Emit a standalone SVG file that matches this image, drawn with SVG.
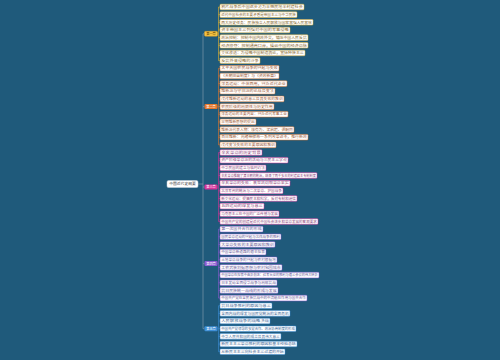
<svg xmlns="http://www.w3.org/2000/svg" width="500" height="360" viewBox="0 0 500 360">
<style>
text{font-family:"Noto Sans CJK SC","Noto Sans",sans-serif;}
.leaf rect{fill:#ffffff;stroke-width:0.5;}
.leaf text{font-size:3.3px;}
.b1 rect{stroke:#e8b530;} .b1 text{fill:#8a6a30;}
.b2 rect{stroke:#e6772b;} .b2 text{fill:#a0603a;}
.b3 rect{stroke:#d8339b;} .b3 text{fill:#8e4a80;}
.b4 rect{stroke:#8b5bd0;} .b4 text{fill:#6a5a98;}
.b5 rect{stroke:#3d8fd8;} .b5 text{fill:#3f6a98;}
.br text{font-size:3.2px;fill:#ffffff;text-anchor:middle;}
.con path{fill:none;stroke-width:0.6;}
</style>
<rect width="500" height="360" fill="#1f5a7b"/>
<g id="connectors" class="con">
<path d="M198 184 H203 M203 33.8 V328.7 M203 33.8 H204.5 M203 106.6 H204.5 M203 187 H204.5 M203 263.6 H204.5 M203 328.7 H204.5" stroke="#8fa3b3"/>
<path d="M217.5 33.8 H218.5 M218.5 7 V60.62 M218.5 7 H220 M218.5 14.66 H220 M218.5 22.32 H220 M218.5 29.98 H220 M218.5 37.64 H220 M218.5 45.3 H220 M218.5 52.96 H220 M218.5 60.62 H220" stroke="#e8b530"/>
<path d="M217.5 106.6 H218.5 M218.5 68.28 V144.88 M218.5 68.28 H220 M218.5 75.94 H220 M218.5 83.6 H220 M218.5 91.26 H220 M218.5 98.92 H220 M218.5 106.58 H220 M218.5 114.24 H220 M218.5 121.9 H220 M218.5 129.56 H220 M218.5 137.22 H220 M218.5 144.88 H220" stroke="#e6772b"/>
<path d="M217.5 187 H218.5 M218.5 152.54 V221.48 M218.5 152.54 H220 M218.5 160.2 H220 M218.5 167.86 H220 M218.5 175.52 H220 M218.5 183.18 H220 M218.5 190.84 H220 M218.5 198.5 H220 M218.5 206.16 H220 M218.5 213.82 H220 M218.5 221.48 H220" stroke="#d8339b"/>
<path d="M217.5 263.6 H218.5 M218.5 229.14 V298.08 M218.5 229.14 H220 M218.5 236.8 H220 M218.5 244.46 H220 M218.5 252.12 H220 M218.5 259.78 H220 M218.5 267.44 H220 M218.5 275.1 H220 M218.5 282.76 H220 M218.5 290.42 H220 M218.5 298.08 H220" stroke="#8b5bd0"/>
<path d="M217.5 328.7 H218.5 M218.5 305.74 V351.7 M218.5 305.74 H220 M218.5 313.4 H220 M218.5 321.06 H220 M218.5 328.72 H220 M218.5 336.38 H220 M218.5 344.04 H220 M218.5 351.7 H220" stroke="#3d8fd8"/>
</g>
<g id="root">
<rect x="167" y="180.5" width="31" height="7" rx="1.5" fill="#ffffff" stroke="#c9d3da" stroke-width="0.5"/>
<text x="182.5" y="185.4" font-size="3.8" fill="#444444" text-anchor="middle">中国近代史纲要</text>
</g>
<g id="branch1" class="br"><rect x="204.5" y="31.3" width="13" height="5" rx="1" fill="#f5c342" stroke="#e09a20" stroke-width="0.4"/><text x="211" y="35" style="fill:#5a3a00">第一章</text></g>
<g id="branch2" class="br"><rect x="204.5" y="104.1" width="13" height="5" rx="1" fill="#e6772b"/><text x="211" y="107.8">第二章</text></g>
<g id="branch3" class="br"><rect x="204.5" y="184.5" width="13" height="5" rx="1" fill="#d8339b"/><text x="211" y="188.2">第三章</text></g>
<g id="branch4" class="br"><rect x="204.5" y="261.1" width="13" height="5" rx="1" fill="#8b5bd0"/><text x="211" y="264.8">第四章</text></g>
<g id="branch5" class="br"><rect x="204.5" y="326.2" width="13" height="5" rx="1" fill="#3d8fd8"/><text x="211" y="329.9">第五章</text></g>
<g id="n1" class="leaf b1"><rect x="220" y="4.2" width="84" height="5.6" rx="0.8"/><text x="221.2" y="8.2" textLength="81.6" lengthAdjust="spacingAndGlyphs">鸦片战争后中国逐步沦为半殖民地半封建社会</text></g>
<g id="n2" class="leaf b1"><rect x="220" y="11.86" width="77" height="5.6" rx="0.8"/><text x="221.2" y="15.86" textLength="74.6" lengthAdjust="spacingAndGlyphs">近代中国社会的主要矛盾是帝国主义与中华民族</text></g>
<g id="n3" class="leaf b1"><rect x="220" y="19.52" width="93" height="5.6" rx="0.8"/><text x="221.2" y="23.52" textLength="90.6" lengthAdjust="spacingAndGlyphs">两大历史任务：民族独立人民解放与国家富强人民富裕</text></g>
<g id="n4" class="leaf b1"><rect x="220" y="27.18" width="70" height="5.6" rx="0.8"/><text x="221.2" y="31.18" textLength="67.6" lengthAdjust="spacingAndGlyphs">资本帝国主义列强对中国的军事侵略</text></g>
<g id="n5" class="leaf b1"><rect x="220" y="34.84" width="88" height="5.6" rx="0.8"/><text x="221.2" y="38.84" textLength="85.6" lengthAdjust="spacingAndGlyphs">政治控制：控制中国内政外交，镇压中国人民反抗</text></g>
<g id="n6" class="leaf b1"><rect x="220" y="42.5" width="88" height="5.6" rx="0.8"/><text x="221.2" y="46.5" textLength="85.6" lengthAdjust="spacingAndGlyphs">经济掠夺：控制通商口岸，操纵中国的经济命脉</text></g>
<g id="n7" class="leaf b1"><rect x="220" y="50.16" width="85" height="5.6" rx="0.8"/><text x="221.2" y="54.16" textLength="82.6" lengthAdjust="spacingAndGlyphs">文化渗透：为侵略中国制造舆论，宣扬种族主义</text></g>
<g id="n8" class="leaf b1"><rect x="220" y="57.82" width="40" height="5.6" rx="0.8"/><text x="221.2" y="61.82" textLength="37.6" lengthAdjust="spacingAndGlyphs">反抗外来侵略的斗争</text></g>
<g id="n9" class="leaf b2"><rect x="220" y="65.48" width="59" height="5.6" rx="0.8"/><text x="221.2" y="69.48" textLength="56.6" lengthAdjust="spacingAndGlyphs">太平天国农民战争的兴起与失败</text></g>
<g id="n10" class="leaf b2"><rect x="220" y="73.14" width="59" height="5.6" rx="0.8"/><text x="221.2" y="77.14" textLength="56.6" lengthAdjust="spacingAndGlyphs">《天朝田亩制度》与《资政新篇》</text></g>
<g id="n11" class="leaf b2"><rect x="220" y="80.8" width="67" height="5.6" rx="0.8"/><text x="221.2" y="84.8" textLength="64.6" lengthAdjust="spacingAndGlyphs">洋务运动：中体西用，兴办近代企业</text></g>
<g id="n12" class="leaf b2"><rect x="220" y="88.46" width="55" height="5.6" rx="0.8"/><text x="221.2" y="92.46" textLength="52.6" lengthAdjust="spacingAndGlyphs">维新派与守旧派的论战及变法</text></g>
<g id="n13" class="leaf b2"><rect x="220" y="96.12" width="64" height="5.6" rx="0.8"/><text x="221.2" y="100.12" textLength="61.6" lengthAdjust="spacingAndGlyphs">戊戌维新运动的意义及其失败的教训</text></g>
<g id="n14" class="leaf b2"><rect x="220" y="103.78" width="54" height="5.6" rx="0.8"/><text x="221.2" y="107.78" textLength="51.6" lengthAdjust="spacingAndGlyphs">农民阶级的局限性与历史作用</text></g>
<g id="n15" class="leaf b2"><rect x="220" y="111.44" width="68" height="5.6" rx="0.8"/><text x="221.2" y="115.44" textLength="65.6" lengthAdjust="spacingAndGlyphs">洋务运动的主要内容：兴办近代军事工业</text></g>
<g id="n16" class="leaf b2"><rect x="220" y="119.1" width="36" height="5.6" rx="0.8"/><text x="221.2" y="123.1" textLength="33.6" lengthAdjust="spacingAndGlyphs">早期维新思想的提出</text></g>
<g id="n17" class="leaf b2"><rect x="220" y="126.76" width="74" height="5.6" rx="0.8"/><text x="221.2" y="130.76" textLength="71.6" lengthAdjust="spacingAndGlyphs">维新派代表人物：康有为、梁启超、谭嗣同</text></g>
<g id="n18" class="leaf b2"><rect x="220" y="134.42" width="88" height="5.6" rx="0.8"/><text x="221.2" y="138.42" textLength="85.6" lengthAdjust="spacingAndGlyphs">百日维新：光绪帝颁布一系列改革诏令，推行新政</text></g>
<g id="n19" class="leaf b2"><rect x="220" y="142.08" width="56" height="5.6" rx="0.8"/><text x="221.2" y="146.08" textLength="53.6" lengthAdjust="spacingAndGlyphs">戊戌变法失败的主要原因和教训</text></g>
<g id="n20" class="leaf b3"><rect x="220" y="149.74" width="42" height="5.6" rx="0.8"/><text x="221.2" y="153.74" textLength="39.6" lengthAdjust="spacingAndGlyphs">辛亥革命的历史背景</text></g>
<g id="n21" class="leaf b3"><rect x="220" y="157.4" width="68" height="5.6" rx="0.8"/><text x="221.2" y="161.4" textLength="65.6" lengthAdjust="spacingAndGlyphs">资产阶级革命派的活动与三民主义学说</text></g>
<g id="n22" class="leaf b3"><rect x="220" y="165.06" width="46" height="5.6" rx="0.8"/><text x="221.2" y="169.06" textLength="43.6" lengthAdjust="spacingAndGlyphs">中华民国的建立与临时约法</text></g>
<g id="n23" class="leaf b3"><rect x="220" y="172.72" width="97" height="5.6" rx="0.8"/><text x="221.2" y="176.72" textLength="94.6" lengthAdjust="spacingAndGlyphs">辛亥革命推翻了清王朝的统治，结束了两千多年的封建君主专制制度</text></g>
<g id="n24" class="leaf b3"><rect x="220" y="180.38" width="70" height="5.6" rx="0.8"/><text x="221.2" y="184.38" textLength="67.6" lengthAdjust="spacingAndGlyphs">辛亥革命的失败：袁世凯窃取革命果实</text></g>
<g id="n25" class="leaf b3"><rect x="220" y="188.04" width="63" height="5.6" rx="0.8"/><text x="221.2" y="192.04" textLength="60.6" lengthAdjust="spacingAndGlyphs">北洋军阀的统治与二次革命、护国战争</text></g>
<g id="n26" class="leaf b3"><rect x="220" y="195.7" width="77" height="5.6" rx="0.8"/><text x="221.2" y="199.7" textLength="74.6" lengthAdjust="spacingAndGlyphs">新文化运动：提倡民主和科学，反对专制和迷信</text></g>
<g id="n27" class="leaf b3"><rect x="220" y="203.36" width="44" height="5.6" rx="0.8"/><text x="221.2" y="207.36" textLength="41.6" lengthAdjust="spacingAndGlyphs">五四运动的爆发与意义</text></g>
<g id="n28" class="leaf b3"><rect x="220" y="211.02" width="59" height="5.6" rx="0.8"/><text x="221.2" y="215.02" textLength="56.6" lengthAdjust="spacingAndGlyphs">马克思主义在中国的广泛传播与发展</text></g>
<g id="n29" class="leaf b3"><rect x="220" y="218.68" width="98" height="5.6" rx="0.8"/><text x="221.2" y="222.68" textLength="95.6" lengthAdjust="spacingAndGlyphs">中国共产党的创建是近代中国社会进步和革命发展的客观要求</text></g>
<g id="n30" class="leaf b4"><rect x="220" y="226.34" width="43" height="5.6" rx="0.8"/><text x="221.2" y="230.34" textLength="40.6" lengthAdjust="spacingAndGlyphs">第一次国共合作的形成</text></g>
<g id="n31" class="leaf b4"><rect x="220" y="234" width="61" height="5.6" rx="0.8"/><text x="221.2" y="238" textLength="58.6" lengthAdjust="spacingAndGlyphs">国民革命运动的兴起与北伐战争的胜利</text></g>
<g id="n32" class="leaf b4"><rect x="220" y="241.66" width="55" height="5.6" rx="0.8"/><text x="221.2" y="245.66" textLength="52.6" lengthAdjust="spacingAndGlyphs">大革命失败的主要原因和教训</text></g>
<g id="n33" class="leaf b4"><rect x="220" y="249.32" width="46" height="5.6" rx="0.8"/><text x="221.2" y="253.32" textLength="43.6" lengthAdjust="spacingAndGlyphs">中国革命新道路的艰辛探索</text></g>
<g id="n34" class="leaf b4"><rect x="220" y="256.98" width="57" height="5.6" rx="0.8"/><text x="221.2" y="260.98" textLength="54.6" lengthAdjust="spacingAndGlyphs">土地革命战争的兴起与农村根据地</text></g>
<g id="n35" class="leaf b4"><rect x="220" y="264.64" width="62" height="5.6" rx="0.8"/><text x="221.2" y="268.64" textLength="59.6" lengthAdjust="spacingAndGlyphs">工农武装割据思想与农村包围城市</text></g>
<g id="n36" class="leaf b4"><rect x="220" y="272.3" width="99" height="5.6" rx="0.8"/><text x="221.2" y="276.3" textLength="96.6" lengthAdjust="spacingAndGlyphs">中国革命在探索中曲折前进：红军长征的胜利与遵义会议的伟大转折</text></g>
<g id="n37" class="leaf b4"><rect x="220" y="279.96" width="57" height="5.6" rx="0.8"/><text x="221.2" y="283.96" textLength="54.6" lengthAdjust="spacingAndGlyphs">日本发动全面侵华战争与局部抗战</text></g>
<g id="n38" class="leaf b4"><rect x="220" y="287.62" width="58" height="5.6" rx="0.8"/><text x="221.2" y="291.62" textLength="55.6" lengthAdjust="spacingAndGlyphs">抗日民族统一战线的形成与发展</text></g>
<g id="n39" class="leaf b4"><rect x="220" y="295.28" width="87" height="5.6" rx="0.8"/><text x="221.2" y="299.28" textLength="84.6" lengthAdjust="spacingAndGlyphs">中国共产党在全民族抗战中的中流砥柱作用与国共合作</text></g>
<g id="n40" class="leaf b5"><rect x="220" y="302.94" width="52" height="5.6" rx="0.8"/><text x="221.2" y="306.94" textLength="49.6" lengthAdjust="spacingAndGlyphs">抗日战争胜利的原因与意义</text></g>
<g id="n41" class="leaf b5"><rect x="220" y="310.6" width="70" height="5.6" rx="0.8"/><text x="221.2" y="314.6" textLength="67.6" lengthAdjust="spacingAndGlyphs">全面内战的爆发与国民党统治的全面危机</text></g>
<g id="n42" class="leaf b5"><rect x="220" y="318.26" width="50" height="5.6" rx="0.8"/><text x="221.2" y="322.26" textLength="47.6" lengthAdjust="spacingAndGlyphs">人民解放战争的战略决战</text></g>
<g id="n43" class="leaf b5"><rect x="220" y="325.92" width="76" height="5.6" rx="0.8"/><text x="221.2" y="329.92" textLength="73.6" lengthAdjust="spacingAndGlyphs">中国共产党领导的多党合作、政治协商制度的形成</text></g>
<g id="n44" class="leaf b5"><rect x="220" y="333.58" width="61" height="5.6" rx="0.8"/><text x="221.2" y="337.58" textLength="58.6" lengthAdjust="spacingAndGlyphs">中华人民共和国的成立及其伟大意义</text></g>
<g id="n45" class="leaf b5"><rect x="220" y="341.24" width="77" height="5.6" rx="0.8"/><text x="221.2" y="345.24" textLength="74.6" lengthAdjust="spacingAndGlyphs">新民主主义革命胜利的原因和基本经验总结</text></g>
<g id="n46" class="leaf b5"><rect x="220" y="348.9" width="65" height="5.6" rx="0.8"/><text x="221.2" y="352.9" textLength="62.6" lengthAdjust="spacingAndGlyphs">从新民主主义向社会主义过渡的开始</text></g>
</svg>
